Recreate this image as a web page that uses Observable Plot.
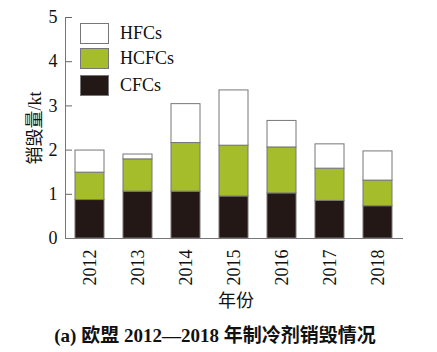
<!DOCTYPE html>
<html><head><meta charset="utf-8">
<script src="https://cdn.jsdelivr.net/npm/d3@7"></script>
<script src="https://cdn.jsdelivr.net/npm/@observablehq/plot@0.6"></script>
<style>
body{margin:0;background:#fff;}
#wrap{position:relative;width:437px;height:352px;overflow:hidden;font-family:"Liberation Serif","DejaVu Serif",serif;}
#wrap svg text{font-family:"Liberation Serif","Times New Roman","Noto Sans CJK SC",serif !important;font-size:18px !important;fill:#111;}
.abs{position:absolute;white-space:nowrap;color:#111;}
.sw{position:absolute;width:29px;height:20px;border:1px solid #777;box-sizing:border-box;}
</style></head>
<body><div id="wrap"></div>
<script>
const years = ["2012","2013","2014","2015","2016","2017","2018"];
const cfcs  = [0.87, 1.06, 1.06, 0.95, 1.02, 0.85, 0.73];
const hcfcs = [0.62, 0.73, 1.10, 1.15, 1.04, 0.73, 0.58];
const hfcs  = [0.50, 0.11, 0.88, 1.25, 0.60, 0.55, 0.66];
const series = ["CFCs","HCFCs","HFCs"];
const colors = ["#231815","#a6bd2b","#ffffff"];
const yTicks = [0,1,2,3,4,5];

const rows = [];
years.forEach((y,i)=>{
  rows.push({year:y, type:"CFCs", v:cfcs[i]});
  rows.push({year:y, type:"HCFCs", v:hcfcs[i]});
  rows.push({year:y, type:"HFCs", v:hfcs[i]});
});

const chart = Plot.plot({
  width:437, height:352,
  marginLeft:65, marginRight:35, marginTop:17, marginBottom:114,
  style:{fontFamily:"Liberation Serif, serif", fontSize:"18px", color:"#111", background:"#fff"},
  x:{domain:years, paddingInner:0.4, paddingOuter:0.2, label:null},
  y:{domain:[0,5], label:null},
  color:{domain:series, range:colors},
  marks:[
    Plot.barY(rows, {x:"year", y:"v", fill:"type", stroke:"#777", strokeWidth:1, order:series}),
    Plot.axisY({ticks:yTicks, tickSize:-7, tickPadding:15, stroke:"#666", tickFormat:d=>String(d),
      label:"销毁量/kt", labelAnchor:"center", labelArrow:"none", labelOffset:37}),
    Plot.axisX({tickSize:0, tickRotate:-90, tickPadding:11, label:null}),
    Plot.frame({anchor:"left", stroke:"#777"}),
    Plot.frame({anchor:"bottom", stroke:"#777"})
  ]
});
const wrap = document.getElementById("wrap");
chart.style.position="absolute"; chart.style.left="0"; chart.style.top="0";
wrap.appendChild(chart);

// legend
const legTops = [23,48,75];
["HFCs","HCFCs","CFCs"].forEach((s,i)=>{
  const sw = document.createElement("div");
  sw.className="sw";
  sw.style.left="80px"; sw.style.top=legTops[i]+"px"; sw.style.height="21px";
  sw.style.background = colors[series.indexOf(s)];
  wrap.appendChild(sw);
  const t = document.createElement("div");
  t.className="abs"; t.textContent=s;
  t.style.left="120px"; t.style.top=(legTops[i]+0)+"px"; t.style.fontSize="18px"; t.style.lineHeight="21px";
  wrap.appendChild(t);
});

// x label
const xl = document.createElement("div");
xl.className="abs"; xl.textContent="年份";
xl.style.fontFamily='"Noto Sans CJK SC",sans-serif';
xl.style.fontSize="18px"; xl.style.lineHeight="20px";
xl.style.left="236px"; xl.style.top="299px";
xl.style.transform="translate(-50%,-50%)";
wrap.appendChild(xl);

// caption
const cap = document.createElement("div");
cap.className="abs"; cap.textContent="(a) 欧盟 2012—2018 年制冷剂销毁情况";
cap.style.fontFamily='"Liberation Serif","Noto Sans CJK SC",serif';
cap.style.fontWeight="bold";
cap.style.fontSize="19px"; cap.style.lineHeight="20px";
cap.style.left="215px"; cap.style.top="336px";
cap.style.transform="translate(-50%,-50%)";
wrap.appendChild(cap);
</script></body></html>
